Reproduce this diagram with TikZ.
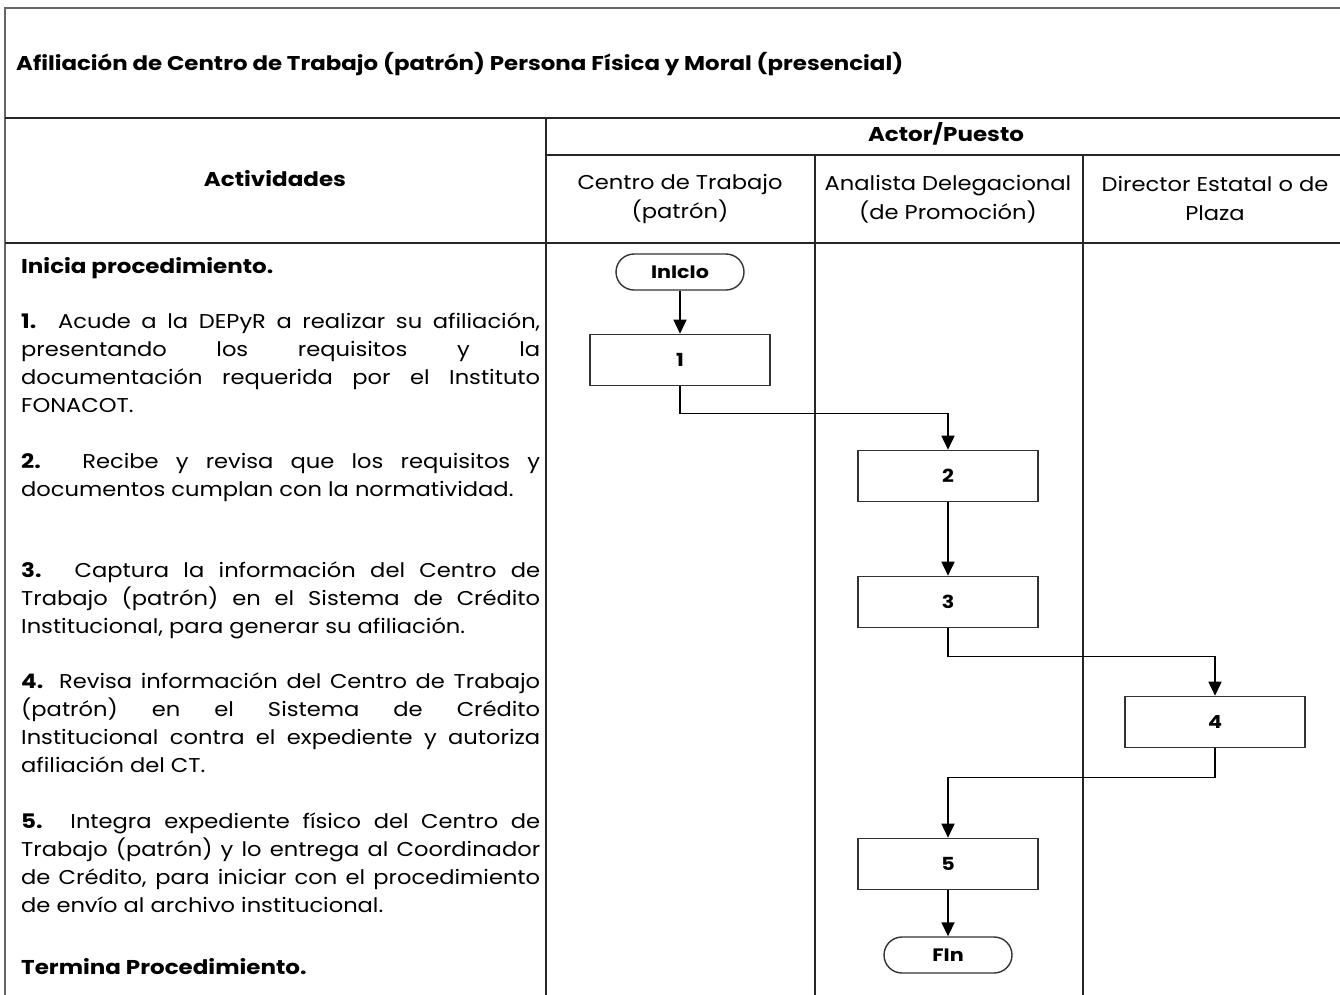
\documentclass[tikz,border=0pt]{standalone}
\usepackage{fontspec}
\setmainfont{Poppins}[FakeStretch=1.13, BoldFeatures={FakeStretch=1.15}]
\usetikzlibrary{arrows.meta}
\begin{document}
\begin{tikzpicture}[x=1pt,y=-1pt,
  frame/.style={draw=black!60, line width=2.2pt},
  grid/.style={draw=black!85, line width=1.8pt},
  stepbox/.style={draw=black!80, line width=1.6pt, minimum width=180pt, minimum height=51pt,
    inner sep=0pt, font=\bfseries\fontsize{18}{20}\selectfont},
  term/.style={draw=black!80, line width=1.4pt, rounded corners=18pt, minimum width=128pt,
    minimum height=36pt, inner sep=0pt, font=\bfseries\fontsize{18}{20}\selectfont},
  flow/.style={draw=black, line width=1.6pt, -{Triangle[width=13pt,length=14pt]}},
  acts/.style={anchor=north west, inner sep=0pt, text width=519pt, align=justify,
    font=\fontsize{20}{28}\selectfont},
  head/.style={inner sep=0pt, align=center, font=\fontsize{20}{29}\selectfont},
  bhead/.style={inner sep=0pt, align=center, font=\bfseries\fontsize{20}{24}\selectfont},
]
\clip (0,0) rectangle (1340,994);
\fill[white] (0,0) rectangle (1340,994);

% table rules
\draw[frame] (1360,8) -- (5,8) -- (5,1010);
\draw[grid] (5,118) -- (1360,118);
\draw[grid] (546,155) -- (1360,155);
\draw[grid] (5,243) -- (1360,243);
\draw[grid] (546,118) -- (546,1010);
\draw[grid] (815,155) -- (815,1010);
\draw[grid] (1083,155) -- (1083,1010);

% title and headers
\node[anchor=west, inner sep=0pt, font=\bfseries\fontsize{19.9}{24}\selectfont] (title) at (16,64)
  {Afiliación de Centro de Trabajo (patrón) Persona Física y Moral (presencial)};
\node[bhead] (hact) at (275,179) {Actividades};
\node[bhead] (hactor) at (946,134) {Actor/Puesto};
\node[head] (hc1) at (680,199) {Centro de Trabajo\\(patrón)};
\node[head] (hc2) at (948,199) {Analista Delegacional\\(de Promoción)};
\node[head] (hc3) at (1215,198) {Director Estatal o de\\Plaza};

% activity descriptions
\node[acts] (t0) at (21,257) {\textbf{Inicia procedimiento.}};
\node[acts] (t1) at (21,313) {\textbf{1.} Acude a la DEPyR a realizar su afiliación,\linebreak
  presentando los requisitos y la\linebreak
  documentación requerida por el Instituto\linebreak FONACOT.};
\node[acts] (t2) at (21,453) {\textbf{2.} Recibe y revisa que los requisitos y\linebreak
  documentos cumplan con la normatividad.};
\node[acts] (t3) at (21,562) {\textbf{3.} Captura la información del Centro de\linebreak
  Trabajo (patrón) en el Sistema de Crédito\linebreak
  Institucional, para generar su afiliación.};
\node[acts] (t4) at (21,673) {\textbf{4.} Revisa información del Centro de Trabajo\linebreak
  (patrón) en el Sistema de Crédito\linebreak
  Institucional contra el expediente y autoriza\linebreak afiliación del CT.};
\node[acts] (t5) at (21,813) {\textbf{5.} Integra expediente físico del Centro de\linebreak
  Trabajo (patrón) y lo entrega al Coordinador\linebreak
  de Crédito, para iniciar con el procedimiento\linebreak
  de envío al archivo institucional.};
\node[acts] (t6) at (21,958) {\textbf{Termina Procedimiento.}};

% flow chart
\node[term] (ini) at (680,272) {InIcIo};
\node[stepbox] (s1) at (680,360) {1};
\node[stepbox] (s2) at (948,476) {2};
\node[stepbox] (s3) at (948,602) {3};
\node[stepbox] (s4) at (1215,722) {4};
\node[stepbox] (s5) at (948,864) {5};
\node[term] (fin) at (948,955) {FIn};

\draw[flow] (ini) -- (s1);
\draw[flow] (s1.south) -- ++(0,27) -| (s2.north);
\draw[flow] (s2) -- (s3);
\draw[flow] (s3.south) -- ++(0,28) -| (s4.north);
\draw[flow] (s4.south) -- ++(0,29) -| (s5.north);
\draw[flow] (s5) -- (fin);
\end{tikzpicture}
\end{document}
